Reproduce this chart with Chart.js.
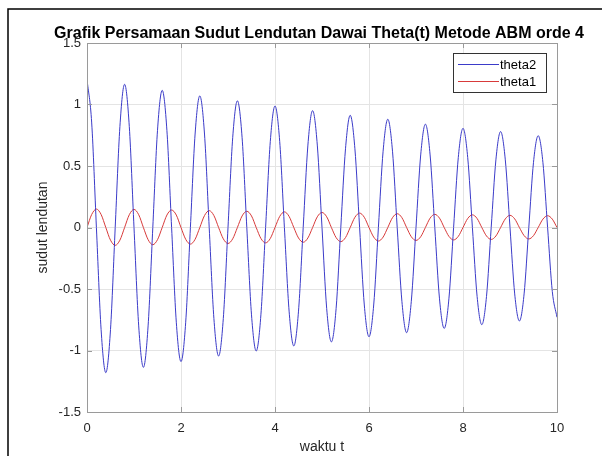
<!DOCTYPE html>
<html>
<head>
<meta charset="utf-8">
<script src="https://cdn.jsdelivr.net/npm/chart.js@4"></script>
<style>
  html, body { margin: 0; padding: 0; background: #fff; }
  #chart { display: block; }
</style>
</head>
<body>
<canvas id="chart" width="602" height="456"></canvas>
<script>
// time samples, every 0.1 s (eighth of a period)
const waktu = [0, 0.1, 0.2, 0.3, 0.4, 0.5, 0.6, 0.7, 0.8, 0.9, 1, 1.1, 1.2, 1.3, 1.4, 1.5, 1.6, 1.7, 1.8, 1.9,
  2, 2.1, 2.2, 2.3, 2.4, 2.5, 2.6, 2.7, 2.8, 2.9, 3, 3.1, 3.2, 3.3, 3.4, 3.5, 3.6, 3.7, 3.8, 3.9,
  4, 4.1, 4.2, 4.3, 4.4, 4.5, 4.6, 4.7, 4.8, 4.9, 5, 5.1, 5.2, 5.3, 5.4, 5.5, 5.6, 5.7, 5.8, 5.9,
  6, 6.1, 6.2, 6.3, 6.4, 6.5, 6.6, 6.7, 6.8, 6.9, 7, 7.1, 7.2, 7.3, 7.4, 7.5, 7.6, 7.7, 7.8, 7.9,
  8, 8.1, 8.2, 8.3, 8.4, 8.5, 8.6, 8.7, 8.8, 8.9, 9, 9.1, 9.2, 9.3, 9.4, 9.5, 9.6, 9.7, 9.8, 9.9, 10];

const theta2 = [1.205, 0.85, 0, -0.83, -1.18, -0.83, 0, 0.82, 1.164, 0.82, 0, -0.80, -1.137, -0.80, 0, 0.79, 1.115, 0.79, 0, -0.77,
  -1.09, -0.77, 0, 0.76, 1.07, 0.76, 0, -0.74, -1.045, -0.74, 0, 0.73, 1.03, 0.73, 0, -0.71, -1.004, -0.71, 0, 0.70,
  0.988, 0.70, 0, -0.68, -0.963, -0.68, 0, 0.67, 0.95, 0.67, 0, -0.66, -0.93, -0.66, 0, 0.64, 0.912, 0.64, 0, -0.63,
  -0.888, -0.63, 0, 0.62, 0.88, 0.62, 0, -0.60, -0.855, -0.60, 0, 0.59, 0.84, 0.59, 0, -0.58, -0.82, -0.58, 0, 0.57,
  0.806, 0.57, 0, -0.56, -0.79, -0.56, 0, 0.55, 0.78, 0.55, 0, -0.54, -0.76, -0.54, 0, 0.53, 0.746, 0.53, 0, -0.52, -0.73];

const theta1 = [0, 0.106, 0.150, 0.106, 0, -0.103, -0.145, -0.103, 0, 0.104, 0.147, 0.104, 0, -0.099, -0.140, -0.099, 0, 0.101, 0.142, 0.101,
  0, -0.096, -0.135, -0.096, 0, 0.097, 0.137, 0.097, 0, -0.092, -0.130, -0.092, 0, 0.094, 0.132, 0.094, 0, -0.089, -0.125, -0.089,
  0, 0.090, 0.127, 0.090, 0, -0.085, -0.120, -0.085, 0, 0.087, 0.122, 0.087, 0, -0.082, -0.115, -0.082, 0, 0.083, 0.117, 0.083,
  0, -0.078, -0.110, -0.078, 0, 0.080, 0.112, 0.080, 0, -0.075, -0.105, -0.075, 0, 0.076, 0.107, 0.076, 0, -0.072, -0.101, -0.072,
  0, 0.073, 0.103, 0.073, 0, -0.069, -0.097, -0.069, 0, 0.070, 0.099, 0.070, 0, -0.066, -0.093, -0.066, 0, 0.068, 0.096, 0.068, 0];

const xTicks = [0, 2, 4, 6, 8, 10];
const yTicks = [-1.5, -1, -0.5, 0, 0.5, 1, 1.5];

const judul = 'Grafik Persamaan Sudut Lendutan Dawai Theta(t) Metode ABM orde 4';
const labelX = 'waktu t';
const labelY = 'sudut lendutan';
const seriesNames = ['theta2', 'theta1'];
const seriesColors = ['#3b3bc9', '#d83a3a'];

const toPoints = (ys) => waktu.map((t, i) => ({ x: t, y: ys[i] }));

const boxColor = '#9a9a9a';
const FONT = '"Liberation Sans", Arial, sans-serif';

const matlabLook = {
  id: 'matlabLook',
  beforeDraw(chart) {
    const ctx = chart.ctx;
    ctx.save();
    ctx.fillStyle = '#fff';
    ctx.fillRect(0, 0, chart.width, chart.height);
    // outer frame (top & left)
    ctx.strokeStyle = '#000';
    ctx.lineWidth = 1.5;
    ctx.beginPath();
    ctx.moveTo(8, chart.height);
    ctx.lineTo(8, 9);
    ctx.lineTo(chart.width, 9);
    ctx.stroke();
    ctx.restore();
  },
  afterDraw(chart) {
    const ctx = chart.ctx;
    const a = chart.chartArea;
    const xs = chart.scales.x, ys = chart.scales.y;
    ctx.save();

    // axes box
    ctx.strokeStyle = boxColor;
    ctx.lineWidth = 1;
    ctx.strokeRect(Math.round(a.left) + 0.5, Math.round(a.top) + 0.5,
      Math.round(a.right - a.left), Math.round(a.bottom - a.top));

    // inward ticks on all sides
    const tl = 5;
    ctx.beginPath();
    xTicks.forEach(v => {
      const px = Math.round(xs.getPixelForValue(v)) + 0.5;
      ctx.moveTo(px, a.bottom); ctx.lineTo(px, a.bottom - tl);
      ctx.moveTo(px, a.top); ctx.lineTo(px, a.top + tl);
    });
    yTicks.forEach(v => {
      const py = Math.round(ys.getPixelForValue(v)) + 0.5;
      ctx.moveTo(a.left, py); ctx.lineTo(a.left + tl, py);
      ctx.moveTo(a.right, py); ctx.lineTo(a.right - tl, py);
    });
    ctx.stroke();

    // title
    ctx.fillStyle = '#000';
    ctx.font = 'bold 16px ' + FONT;
    ctx.textAlign = 'center';
    ctx.textBaseline = 'alphabetic';
    ctx.fillText(judul, 319, 38);

    // axis labels
    ctx.fillStyle = '#262626';
    ctx.font = '14px ' + FONT;
    ctx.textBaseline = 'middle';
    ctx.fillText(labelX, (a.left + a.right) / 2, 447);
    ctx.save();
    ctx.translate(43, (a.top + a.bottom) / 2);
    ctx.rotate(-Math.PI / 2);
    ctx.fillText(labelY, 0, 0);
    ctx.restore();

    // legend
    const lx = 453, ly = 53, lw = 93, lh = 39;
    ctx.fillStyle = '#fff';
    ctx.fillRect(lx, ly, lw, lh);
    ctx.strokeStyle = '#333';
    ctx.lineWidth = 1;
    ctx.strokeRect(lx + 0.5, ly + 0.5, lw, lh);
    ctx.font = '13px ' + FONT;
    ctx.textAlign = 'left';
    seriesNames.forEach((name, i) => {
      const y = ly + 11 + i * 17;
      ctx.strokeStyle = seriesColors[i];
      ctx.beginPath();
      ctx.moveTo(lx + 5, y + 0.5);
      ctx.lineTo(lx + 46, y + 0.5);
      ctx.stroke();
      ctx.fillStyle = '#000';
      ctx.fillText(name, lx + 47, y + 1);
    });
    ctx.restore();
  }
};

new Chart(document.getElementById('chart'), {
  type: 'line',
  data: {
    datasets: [
      { label: seriesNames[0], data: toPoints(theta2), borderColor: seriesColors[0], borderWidth: 1, pointRadius: 0, cubicInterpolationMode: 'monotone', fill: false },
      { label: seriesNames[1], data: toPoints(theta1), borderColor: seriesColors[1], borderWidth: 1, pointRadius: 0, cubicInterpolationMode: 'monotone', fill: false }
    ]
  },
  options: {
    responsive: false,
    animation: false,
    devicePixelRatio: 1,
    layout: { padding: { left: 0, top: 43, right: 45, bottom: 0 } },
    plugins: { legend: { display: false }, title: { display: false }, tooltip: { enabled: false } },
    scales: {
      x: {
        type: 'linear', min: 0, max: 10,
        afterFit: (s) => { s.height = 44; },
        afterBuildTicks: (s) => { s.ticks = xTicks.map(v => ({ value: v })); },
        ticks: { padding: 9, color: '#262626', font: { family: FONT, size: 13 }, callback: (v) => String(v) },
        grid: { color: '#e4e4e4', drawTicks: false },
        border: { display: false }
      },
      y: {
        type: 'linear', min: -1.5, max: 1.5,
        afterFit: (s) => { s.width = 87; },
        afterBuildTicks: (s) => { s.ticks = yTicks.map(v => ({ value: v })); },
        ticks: { padding: 6, color: '#262626', font: { family: FONT, size: 13 }, callback: (v) => String(v) },
        grid: { color: '#e4e4e4', drawTicks: false },
        border: { display: false }
      }
    }
  },
  plugins: [matlabLook]
});
</script>
</body>
</html>
